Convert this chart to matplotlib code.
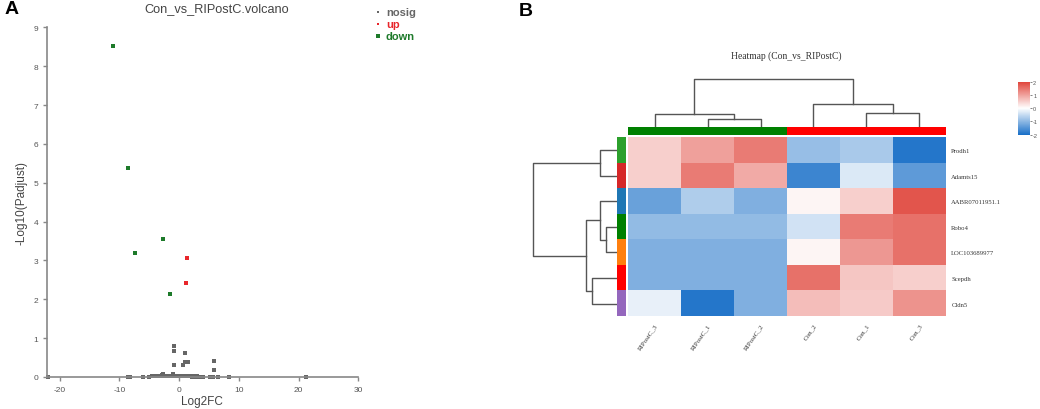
import numpy as np
import matplotlib
matplotlib.use("Agg")
import matplotlib.pyplot as plt
from matplotlib.colors import LinearSegmentedColormap, ListedColormap

W, H = 1040, 410

# ---- volcano data ----
down_x = [-11.0, -8.6, -7.3, -2.7, -1.5]
down_y = [8.52, 5.37, 3.18, 3.55, 2.13]
up_x = [1.4, 1.2]
up_y = [3.07, 2.43]
nosig_x = [-0.9, -0.9, -0.8, 1.0, 1.0, 1.5, 0.7, 5.8, 5.8,
           -22.0, -8.5, -8.2, -6.1, -5.0, -4.5, -4.2, -3.8, -3.4, -3.0, -2.8, -2.6, -2.4,
           -2.0, -1.6, -1.2, -1.0, -0.8, -0.5, -0.2, 0.0, 0.3, 0.6, 0.9, 1.2, 1.5,
           1.8, 2.1, 2.4, 2.7, 3.0, 3.3, 3.6, 4.0, 5.2, 5.6, 6.5, 8.3, 21.3, -2.7, -1.0]
nosig_y = [0.81, 0.67, 0.30, 0.61, 0.38, 0.38, 0.30, 0.41, 0.18,
           0.01, 0.01, 0.01, 0.01, 0.01, 0.02, 0.02, 0.02, 0.02, 0.03, 0.04, 0.03, 0.02,
           0.02, 0.03, 0.02, 0.05, 0.03, 0.02, 0.02, 0.03, 0.02, 0.02, 0.03, 0.02, 0.02,
           0.02, 0.01, 0.02, 0.01, 0.02, 0.01, 0.01, 0.01, 0.01, 0.01, 0.01, 0.01, 0.01, 0.07, 0.07]

# ---- heatmap data ----
genes = ["Prodh1", "Adamts15", "AABR07011951.1", "Robo4", "LOC103689977", "Scepdh", "Cldn5"]
samples = ["RIPostC_3", "RIPostC_1", "RIPostC_2", "Con_2", "Con_1", "Con_3"]
values = [
    [0.5, 1.0, 1.4, -0.9, -0.75, -1.9],
    [0.5, 1.4, 0.9, -1.7, -0.3, -1.4],
    [-1.3, -0.7, -1.1, 0.1, 0.5, 1.8],
    [-0.95, -0.95, -0.95, -0.4, 1.4, 1.5],
    [-1.1, -1.1, -1.1, 0.1, 1.1, 1.5],
    [-1.1, -1.1, -1.1, 1.5, 0.6, 0.5],
    [-0.2, -1.9, -1.1, 0.7, 0.55, 1.15],
]
row_colors = ["#2ca02c", "#d62728", "#1f77b4", "#008000", "#ff7f0e", "#ff0000", "#9467bd"]
col_groups = ["#008000", "#008000", "#008000", "#ff0000", "#ff0000", "#ff0000"]
# merges: (child a, child b, height in px); leaves first, new nodes numbered after
col_merges = [(1, 2, 7.4), (0, 6, 12.7), (4, 5, 14.0), (3, 8, 23.0), (7, 9, 47.7)]
row_merges = [(3, 4, 11.0), (2, 7, 16.7), (0, 1, 17.0), (5, 6, 24.7), (8, 10, 30.7), (9, 11, 84.3)]


def box(l, t, r, b):
    return [l / W, 1 - b / H, (r - l) / W, (b - t) / H]


def dendro(ax, n, merges, orient):
    pos = [i + 0.5 for i in range(n)]
    hts = [0.0] * n
    for a, b, h in merges:
        if orient == "top":
            ax.plot([pos[a], pos[a], pos[b], pos[b]], [hts[a], h, h, hts[b]], color="#555555", lw=1)
        else:
            ax.plot([hts[a], h, h, hts[b]], [pos[a], pos[a], pos[b], pos[b]], color="#555555", lw=1)
        pos.append((pos[a] + pos[b]) / 2)
        hts.append(h)


fig = plt.figure(figsize=(W / 100, H / 100), dpi=100)
plt.rcParams["font.family"] = "Liberation Sans"
plt.rcParams["axes.unicode_minus"] = False

# ================= A: volcano =================
ax = fig.add_axes(box(47, 28.3, 358.3, 378))
ax.scatter(nosig_x, nosig_y, s=5, marker="s", color="#666666", lw=0, label="nosig", clip_on=False)
ax.scatter(up_x, up_y, s=6, marker="s", color="#e8262b", lw=0, label="up", clip_on=False)
ax.scatter(down_x, down_y, s=9, marker="s", color="#1d7a2a", lw=0, label="down", clip_on=False)
ax.set_xlim(-22.1, 30)
ax.set_ylim(0, 9)
ax.set_xticks([-20, -10, 0, 10, 20, 30])
ax.set_yticks(range(0, 10))
for s in ["top", "right"]:
    ax.spines[s].set_visible(False)
for s in ["left", "bottom"]:
    ax.spines[s].set_color("#888888")
    ax.spines[s].set_linewidth(1.2)
ax.tick_params(labelsize=6, colors="#888888", labelcolor="#555555", length=3, width=1)
fig.text(217 / W, 1 - 9 / H, "Con_vs_RIPostC.volcano", ha="center", va="center", fontsize=9.2, color="#444444")
fig.text(22 / W, 1 - 203 / H, "-Log10(Padjust)", rotation=90, ha="center", va="center", fontsize=8.5, color="#444444")
fig.text(202 / W, 1 - 402 / H, "Log2FC", ha="center", va="center", fontsize=8.5, color="#444444")
leg = ax.legend(loc="upper left", bbox_to_anchor=(366 / W, 1 - 0.5 / H), bbox_transform=fig.transFigure,
                frameon=False, labelspacing=0.15, handletextpad=0.3, handlelength=0.8,
                borderpad=0.2, markerscale=0.8, prop={"weight": "bold", "size": 8})
for t, c in zip(leg.get_texts(), ["#666666", "#e8262b", "#1d7a2a"]):
    t.set_color(c)

fig.text(5 / W, 1 - 9 / H, "A", ha="left", va="center", fontsize=14, fontweight="bold")
fig.text(519 / W, 1 - 12 / H, "B", ha="left", va="center", fontsize=14, fontweight="bold")

# ================= B: heatmap =================
hl, hr, ht, hb = 628.3, 945.7, 138.3, 317.3
cmap = LinearSegmentedColormap.from_list("bwr2", ["#1a70c8", "#ffffff", "#e0443a"])
axh = fig.add_axes(box(hl, ht, hr, hb))
im = axh.imshow(np.array(values), cmap=cmap, vmin=-2, vmax=2, aspect="auto",
                extent=(0, len(samples), len(genes), 0))
axh.set_xticks([i + 0.5 for i in range(len(samples))])
axh.set_xticklabels(samples, rotation=55, ha="right", va="top", rotation_mode="anchor",
                    fontsize=5, family="Liberation Serif", color="#333333")
axh.set_yticks([i + 0.5 for i in range(len(genes))])
axh.set_yticklabels(genes, fontsize=4.8, family="Liberation Serif", color="#333333")
axh.yaxis.tick_right()
axh.tick_params(length=0, pad=4)
for s in axh.spines.values():
    s.set_visible(False)

axc = fig.add_axes(box(hl, 127.7, hr, 136))
axc.imshow(np.arange(len(samples))[None, :], cmap=ListedColormap(col_groups), aspect="auto")
axc.axis("off")

axr = fig.add_axes(box(617, ht, 625.7, hb))
axr.imshow(np.arange(len(genes))[:, None], cmap=ListedColormap(row_colors), aspect="auto")
axr.axis("off")

axdc = fig.add_axes(box(hl, 78, hr, 127.7))
dendro(axdc, len(samples), col_merges, "top")
axdc.set_xlim(0, len(samples))
axdc.set_ylim(0, 49.7)
axdc.axis("off")

axdr = fig.add_axes(box(530.7, ht, 617, hb))
dendro(axdr, len(genes), row_merges, "left")
axdr.set_ylim(len(genes), 0)
axdr.set_xlim(86.3, 0)
axdr.axis("off")

fig.text(786 / W, 1 - 56 / H, "Heatmap (Con_vs_RIPostC)", ha="center", va="center",
         fontsize=6.9, family="Liberation Serif", color="#333333")

axcb = fig.add_axes(box(1018.3, 82.7, 1029.7, 135.7))
cb = fig.colorbar(im, cax=axcb, ticks=[-2, -1, 0, 1, 2])
cb.outline.set_visible(False)
axcb.tick_params(labelsize=4, length=1.5, width=0.5, colors="#555555", pad=1)

fig.savefig("out.png", dpi=100)
